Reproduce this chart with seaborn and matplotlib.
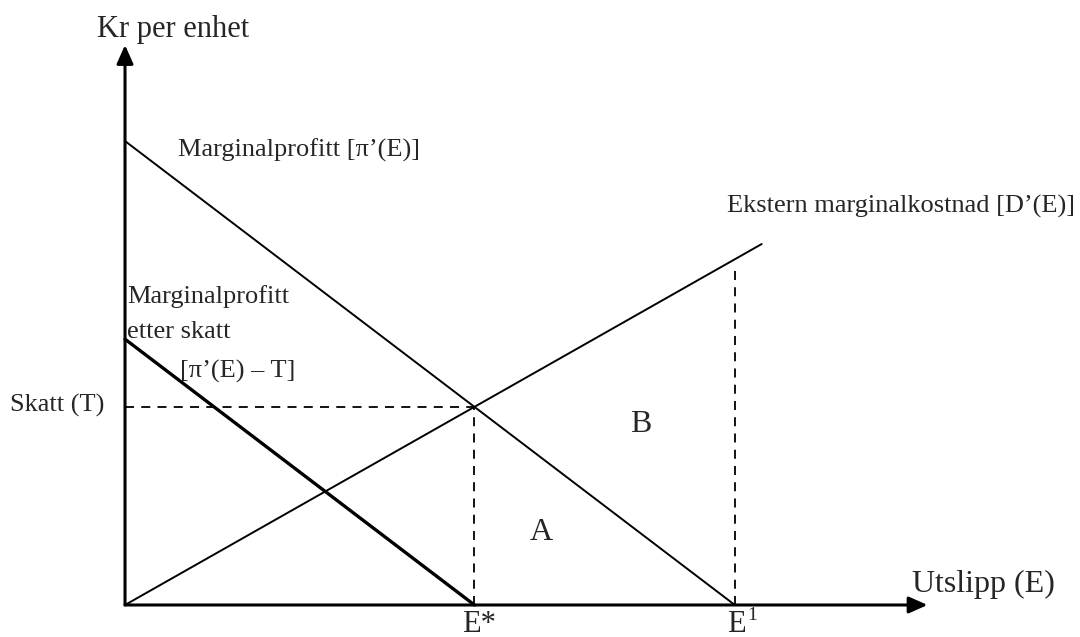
import matplotlib
matplotlib.use('Agg')

import matplotlib.pyplot as plt
import seaborn as sns
import pandas as pd

# curve end points (emission, kr per unit)
mp_emission = [0, 10]
mp_value = [10, 0]
mpt_emission = [0, 5.73]
mpt_value = [5.73, 0]
dmc_emission = [0, 10.44]
dmc_value = [0, 7.78]

tax = 4.27
e_star = 5.73
e_one = 10
dmc_at_e_one = 7.45

x_arrow_end = 13.16
y_arrow_end = 12.07

sns.set_style("white")
plt.rcParams['font.family'] = ['Liberation Serif', 'DejaVu Serif']

fig = plt.figure(figsize=(10.8, 6.37), dpi=100)
ax = fig.add_axes([0, 0, 1, 1])
ax.set_xlim(-2.05, 15.66)
ax.set_ylim(-0.69, 13.04)
ax.axis("off")

mp = pd.DataFrame({"E": mp_emission, "v": mp_value})
mpt = pd.DataFrame({"E": mpt_emission, "v": mpt_value})
dmc = pd.DataFrame({"E": dmc_emission, "v": dmc_value})

sns.lineplot(data=mp, x="E", y="v", ax=ax, color="black", linewidth=1.4)
sns.lineplot(data=mpt, x="E", y="v", ax=ax, color="black", linewidth=2.4)
sns.lineplot(data=dmc, x="E", y="v", ax=ax, color="black", linewidth=1.4)

# dashed guides
dash = (0, (5, 4))
ax.plot([0, e_star], [tax, tax], color="black", lw=1.3, ls=dash)
ax.plot([e_star, e_star], [0, tax], color="black", lw=1.3, ls=dash)
ax.plot([e_one, e_one], [0, dmc_at_e_one - 0.2], color="black", lw=1.3,
        ls=dash)

# axes with arrows
arrow = dict(arrowstyle='-|>,head_length=0.45,head_width=0.2', lw=2.2,
             color='black', mutation_scale=25, shrinkA=0, shrinkB=0)
ax.annotate("", xy=(x_arrow_end, 0), xytext=(0, 0), arrowprops=arrow)
ax.annotate("", xy=(0, y_arrow_end), xytext=(0, 0), arrowprops=arrow)

lab = 19

ax.text(-0.46, 12.24, "Kr per enhet", fontsize=22, va="baseline", ha="left")
ax.text(12.9, 0.28, "Utslipp (E)", fontsize=23, va="baseline", ha="left")

ax.text(0.87, 9.66, "Marginalprofitt [\u03c0\u2019(E)]", fontsize=lab,
        va="baseline", ha="left")
ax.text(9.87, 8.45, "Ekstern marginalkostnad [D\u2019(E)]", fontsize=lab,
        va="baseline", ha="left")
ax.text(0.03, 6.51, "Marginalprofitt", fontsize=lab, va="baseline", ha="left")
ax.text(0.03, 5.75, "etter skatt", fontsize=lab, va="baseline", ha="left")
ax.text(0.90, 4.91, "[\u03c0\u2019(E) \u2013 T]", fontsize=lab,
        va="baseline", ha="left")
ax.text(-1.885, 4.16, "Skatt (T)", fontsize=lab, va="baseline", ha="left")

ax.text(8.46, 3.73, "B", fontsize=23, va="baseline", ha="center")
ax.text(6.82, 1.40, "A", fontsize=23, va="baseline", ha="center")

ax.text(5.80, -0.58, "E*", fontsize=22, va="baseline", ha="center")
ax.text(10.02, -0.58, "E", fontsize=22, va="baseline", ha="center")
ax.text(10.2, -0.33, "1", fontsize=14, va="baseline", ha="left")

plt.savefig("out.png", dpi=100)
plt.close()
